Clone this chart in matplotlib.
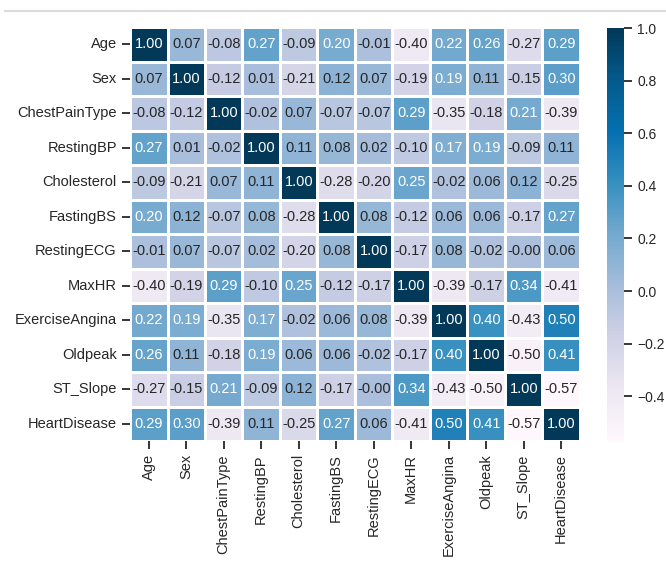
import matplotlib
matplotlib.use("Agg")
import matplotlib.pyplot as plt
import numpy as np
import pandas as pd
import seaborn as sns
from matplotlib.lines import Line2D

labels = ["Age", "Sex", "ChestPainType", "RestingBP", "Cholesterol", "FastingBS",
          "RestingECG", "MaxHR", "ExerciseAngina", "Oldpeak", "ST_Slope", "HeartDisease"]

row_age = [1.00, 0.07, -0.08, 0.27, -0.09, 0.20, -0.01, -0.40, 0.22, 0.26, -0.27, 0.29]
row_sex = [0.07, 1.00, -0.12, 0.01, -0.21, 0.12, 0.07, -0.19, 0.19, 0.11, -0.15, 0.30]
row_cpt = [-0.08, -0.12, 1.00, -0.02, 0.07, -0.07, -0.07, 0.29, -0.35, -0.18, 0.21, -0.39]
row_rbp = [0.27, 0.01, -0.02, 1.00, 0.11, 0.08, 0.02, -0.10, 0.17, 0.19, -0.09, 0.11]
row_chol = [-0.09, -0.21, 0.07, 0.11, 1.00, -0.28, -0.20, 0.25, -0.02, 0.06, 0.12, -0.25]
row_fbs = [0.20, 0.12, -0.07, 0.08, -0.28, 1.00, 0.08, -0.12, 0.06, 0.06, -0.17, 0.27]
row_ecg = [-0.01, 0.07, -0.07, 0.02, -0.20, 0.08, 1.00, -0.17, 0.08, -0.02, -0.004, 0.06]
row_maxhr = [-0.40, -0.19, 0.29, -0.10, 0.25, -0.12, -0.17, 1.00, -0.39, -0.17, 0.34, -0.41]
row_ea = [0.22, 0.19, -0.35, 0.17, -0.02, 0.06, 0.08, -0.39, 1.00, 0.40, -0.43, 0.50]
row_op = [0.26, 0.11, -0.18, 0.19, 0.06, 0.06, -0.02, -0.17, 0.40, 1.00, -0.50, 0.41]
row_st = [-0.27, -0.15, 0.21, -0.09, 0.12, -0.17, -0.004, 0.34, -0.43, -0.50, 1.00, -0.57]
row_hd = [0.29, 0.30, -0.39, 0.11, -0.25, 0.27, 0.06, -0.41, 0.50, 0.41, -0.57, 1.00]

rows = [row_age, row_sex, row_cpt, row_rbp, row_chol, row_fbs, row_ecg,
        row_maxhr, row_ea, row_op, row_st, row_hd]
corr = pd.DataFrame(np.array(rows), index=labels, columns=labels)

plt.rcParams['font.family'] = ['Liberation Sans', 'DejaVu Sans']
plt.rcParams['text.color'] = '#262626'
plt.rcParams['xtick.color'] = '#262626'
plt.rcParams['ytick.color'] = '#262626'

W, H = 666, 565
fig = plt.figure(figsize=(W / 100, H / 100), dpi=100)
ax = fig.add_axes([130 / W, 1 - 441 / H, 450 / W, 414 / H])
cax = fig.add_axes([607 / W, 1 - 441 / H, 17 / W, 413 / H])

sns.heatmap(corr, ax=ax, cbar_ax=cax, cmap="PuBu", annot=True, fmt=".2f",
            linewidths=0.8, linecolor="white", annot_kws={"fontsize": 10.5})

ax.tick_params(axis='both', labelsize=10.5, length=6, width=1.3, color='#262626')
ax.set_xticklabels(labels, rotation=90)
ax.set_yticklabels(labels, rotation=0)
cax.tick_params(labelsize=10, length=6, width=1.3, color='#262626')
cax.set_yticks([-0.4, -0.2, 0.0, 0.2, 0.4, 0.6, 0.8, 1.0])
cax.set_yticklabels(["\u22120.4", "\u22120.2", "0.0", "0.2", "0.4", "0.6", "0.8", "1.0"])

fig.add_artist(Line2D([5 / W, 1], [1 - 11 / H, 1 - 11 / H], color='#dcdcdc', lw=1.5))

fig.savefig("out.png", dpi=100)
